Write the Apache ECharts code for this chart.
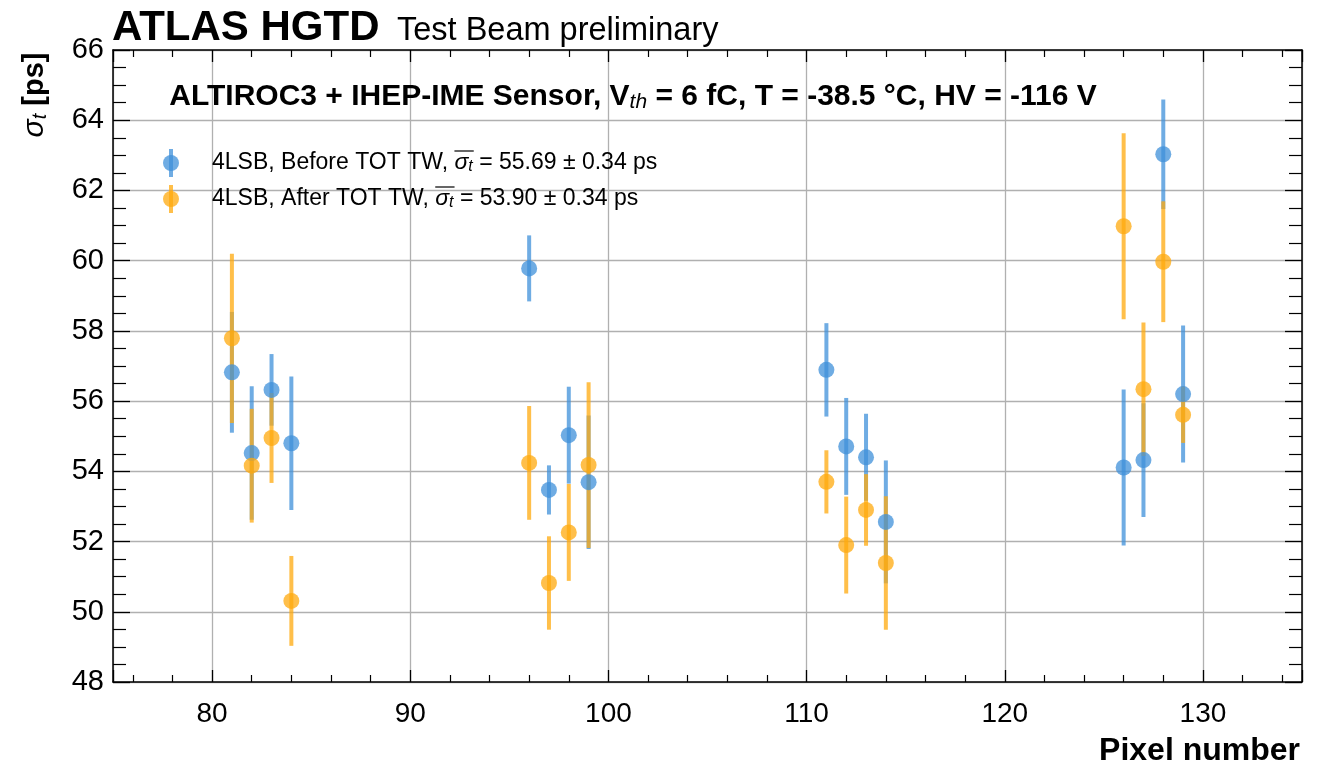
<!DOCTYPE html>
<html>
<head>
<meta charset="utf-8">
<script src="https://cdn.jsdelivr.net/npm/echarts@6/dist/echarts.min.js"></script>
<style>
html,body{margin:0;padding:0;background:#fff;}
#chart{width:1327px;height:766px;}
</style>
</head>
<body>
<div id="chart"></div>
<script>
// ---- data ----
const pixels = [81, 82, 83, 84, 96, 97, 98, 99, 111, 112, 113, 114, 126, 127, 128, 129];
const sigmaBefore = [56.82, 54.52, 56.32, 54.80, 59.78, 53.47, 55.03, 53.69, 56.89, 54.71, 54.40, 52.56, 54.11, 54.32, 63.03, 56.20];
const errBefore   = [1.72, 1.90, 1.02, 1.90, 0.94, 0.70, 1.38, 1.90, 1.33, 1.38, 1.24, 1.75, 2.22, 1.62, 1.56, 1.95];
const sigmaAfter  = [57.79, 54.16, 54.95, 50.31, 54.24, 50.82, 52.26, 54.18, 53.70, 51.90, 52.90, 51.39, 60.98, 56.34, 59.97, 55.61];
const errAfter    = [2.41, 1.62, 1.28, 1.28, 1.62, 1.33, 1.38, 2.36, 0.90, 1.38, 1.02, 1.90, 2.65, 1.90, 1.72, 0.80];
const seriesNames = ['4LSB, Before TOT TW', '4LSB, After TOT TW'];
const meanLabels = ['= 55.69 ± 0.34 ps', '= 53.90 ± 0.34 ps'];
const xRange = [75, 135];
const yRange = [48, 66];
const yStep = 2;

const FONT = '"Liberation Sans", Arial, Helvetica, sans-serif';
const BLUE = '#3f90da';
const ORANGE = '#ffa90e';
const ALPHA = 0.75;

const chart = echarts.init(document.getElementById('chart'), null, {renderer: 'canvas'});

function errData(vals, errs) {
  return pixels.map((p, i) => [p, vals[i], errs[i]]);
}
function ptData(vals) {
  return pixels.map((p, i) => [p, vals[i]]);
}
function makeErrRender(color) {
  return function (params, api) {
    const x = api.value(0), y = api.value(1), e = api.value(2);
    const a = api.coord([x, y - e]);
    const b = api.coord([x, y + e]);
    return {
      type: 'line',
      shape: {x1: a[0], y1: a[1], x2: b[0], y2: b[1]},
      style: {stroke: color, lineWidth: 4, opacity: ALPHA}
    };
  };
}

// measure text widths for overline placement
const mctx = document.createElement('canvas').getContext('2d');
function tw(text, font) { mctx.font = font; return mctx.measureText(text).width; }

const gridL = 113, gridT = 50, gridR = 25, gridB = 84;

const axisLineStyle = {color: '#000', width: 1.5};

const legendFont = 23;
const legendGraphics = [];
[BLUE, ORANGE].forEach((col, i) => {
  const cy = 163 + i * 36;
  legendGraphics.push({
    type: 'line', shape: {x1: 171, y1: cy - 14, x2: 171, y2: cy + 14},
    style: {stroke: col, lineWidth: 4, opacity: ALPHA}, z: 100
  });
  legendGraphics.push({
    type: 'circle', shape: {cx: 171, cy: cy, r: 8},
    style: {fill: col, opacity: ALPHA}, z: 100
  });
  const prefix = seriesNames[i] + ', ';
  const fNormal = legendFont + 'px ' + FONT;
  const fItal = 'italic ' + legendFont + 'px ' + FONT;
  const fSub = 'italic ' + Math.round(legendFont * 0.7) + 'px ' + FONT;
  const x0 = 212;
  const wPre = tw(prefix, fNormal);
  const wSig = tw('σ', fItal);
  const wSub = tw('t', fSub);
  legendGraphics.push({
    type: 'text', x: x0, y: cy, z: 100,
    style: {
      text: '{n|' + prefix + '}{s|σ}{t|t}{n| ' + meanLabels[i] + '}',
      verticalAlign: 'middle', align: 'left',
      rich: {
        n: {fontSize: legendFont, fontFamily: FONT, fill: '#000'},
        s: {fontSize: legendFont, fontFamily: FONT, fontStyle: 'italic', fill: '#000'},
        t: {fontSize: Math.round(legendFont * 0.7), fontFamily: FONT, fontStyle: 'italic', fill: '#000', padding: [8, 0, 0, 0]}
      }
    }
  });
  legendGraphics.push({
    type: 'line', z: 100,
    shape: {x1: x0 + wPre, y1: cy - 12, x2: x0 + wPre + wSig + wSub + 1, y2: cy - 12},
    style: {stroke: '#000', lineWidth: 1.2}
  });
});

const option = {
  animation: false,
  backgroundColor: '#fff',
  grid: {left: gridL, top: gridT, right: gridR, bottom: gridB, containLabel: false},
  xAxis: [
    {
      type: 'value', min: xRange[0], max: xRange[1], splitNumber: 6, minInterval: 10, maxInterval: 10,
      position: 'bottom',
      axisLine: {show: true, onZero: false, lineStyle: axisLineStyle},
      axisTick: {show: true, inside: true, length: 12, lineStyle: {color: '#000', width: 1.3}},
      minorTick: {show: true, splitNumber: 5, length: 7, lineStyle: {color: '#000', width: 1.2}},
      axisLabel: {
        show: true, margin: 18, fontSize: 28, fontFamily: FONT, color: '#000',
        showMinLabel: false, showMaxLabel: false,
        formatter: v => (Math.abs(v % 10) < 1e-9 ? String(v) : '')
      },
      splitLine: {show: true, lineStyle: {color: '#b0b0b0', width: 1.3}}
    },
    {
      type: 'value', min: xRange[0], max: xRange[1], splitNumber: 6, minInterval: 10, maxInterval: 10,
      position: 'top',
      axisLine: {show: true, onZero: false, lineStyle: axisLineStyle},
      axisTick: {show: true, inside: true, length: 12, lineStyle: {color: '#000', width: 1.3}},
      minorTick: {show: true, splitNumber: 5, length: 7, lineStyle: {color: '#000', width: 1.2}},
      axisLabel: {show: false},
      splitLine: {show: false}
    }
  ],
  yAxis: [
    {
      type: 'value', min: yRange[0], max: yRange[1], interval: yStep,
      position: 'left',
      axisLine: {show: true, onZero: false, lineStyle: axisLineStyle},
      axisTick: {show: true, inside: true, length: 17, lineStyle: {color: '#000', width: 1.3}},
      minorTick: {show: true, splitNumber: 4, length: 13, lineStyle: {color: '#000', width: 1.2}},
      axisLabel: {show: true, margin: 9, fontSize: 29, fontFamily: FONT, color: '#000'},
      splitLine: {show: true, lineStyle: {color: '#b0b0b0', width: 1.3}}
    },
    {
      type: 'value', min: yRange[0], max: yRange[1], interval: yStep,
      position: 'right',
      axisLine: {show: true, onZero: false, lineStyle: axisLineStyle},
      axisTick: {show: true, inside: true, length: 17, lineStyle: {color: '#000', width: 1.3}},
      minorTick: {show: true, splitNumber: 4, length: 13, lineStyle: {color: '#000', width: 1.2}},
      axisLabel: {show: false},
      splitLine: {show: false}
    }
  ],
  series: [
    {
      name: seriesNames[0] + ' err', type: 'custom', xAxisIndex: 0, yAxisIndex: 0,
      renderItem: makeErrRender(BLUE), data: errData(sigmaBefore, errBefore),
      encode: {x: 0, y: 1}, clip: true, silent: true
    },
    {
      name: seriesNames[0], type: 'scatter', xAxisIndex: 0, yAxisIndex: 0,
      data: ptData(sigmaBefore), symbol: 'circle', symbolSize: 16,
      itemStyle: {color: BLUE, opacity: ALPHA}, silent: true
    },
    {
      name: seriesNames[1] + ' err', type: 'custom', xAxisIndex: 0, yAxisIndex: 0,
      renderItem: makeErrRender(ORANGE), data: errData(sigmaAfter, errAfter),
      encode: {x: 0, y: 1}, clip: true, silent: true
    },
    {
      name: seriesNames[1], type: 'scatter', xAxisIndex: 0, yAxisIndex: 0,
      data: ptData(sigmaAfter), symbol: 'circle', symbolSize: 16,
      itemStyle: {color: ORANGE, opacity: ALPHA}, silent: true
    }
  ],
  graphic: [
    {
      type: 'text', x: 112, y: 28, z: 100,
      style: {text: 'ATLAS HGTD', font: 'bold 42px ' + FONT, fill: '#000', align: 'left', verticalAlign: 'middle'}
    },
    {
      type: 'text', x: 397, y: 31, z: 100,
      style: {text: 'Test Beam preliminary', font: '32.5px ' + FONT, fill: '#000', align: 'left', verticalAlign: 'middle'}
    },
    {
      type: 'text', x: 633, y: 97, z: 100,
      style: {
        text: '{b|ALTIROC3 + IHEP-IME Sensor, V}{s|th}{b| = 6 fC, T = -38.5 °C, HV = -116 V}',
        align: 'center', verticalAlign: 'middle',
        rich: {
          b: {fontSize: 30, fontWeight: 'bold', fontFamily: FONT, fill: '#000'},
          s: {fontSize: 21, fontStyle: 'italic', fontFamily: FONT, fill: '#000', padding: [10, 0, 0, 0]}
        }
      }
    },
    {
      type: 'text', x: 35, y: 95, rotation: Math.PI / 2, z: 100,
      style: {
        text: '{s|σ}{t|t}{b| [ps]}',
        align: 'center', verticalAlign: 'middle',
        rich: {
          s: {fontSize: 30, fontStyle: 'italic', fontFamily: FONT, fill: '#000'},
          t: {fontSize: 20, fontStyle: 'italic', fontFamily: FONT, fill: '#000', padding: [10, 0, 0, 0]},
          b: {fontSize: 29, fontWeight: 'bold', fontFamily: FONT, fill: '#000'}
        }
      }
    },
    {
      type: 'text', x: 1300, y: 751, z: 100,
      style: {text: 'Pixel number', font: 'bold 32px ' + FONT, fill: '#000', align: 'right', verticalAlign: 'middle'}
    }
  ].concat(legendGraphics)
};

chart.setOption(option);
</script>
</body>
</html>
